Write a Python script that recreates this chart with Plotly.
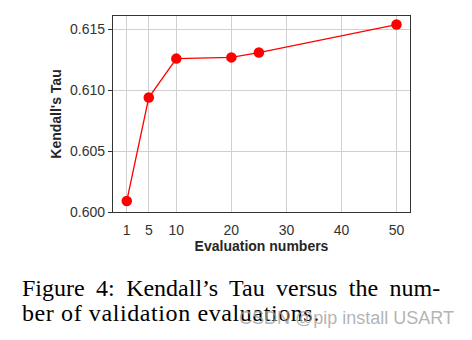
import plotly.graph_objects as go

# Kendall's Tau measured at each number of validation evaluations
eval_numbers = [1, 5, 10, 20, 25, 50]
kendall_tau = [0.6009, 0.6094, 0.6126, 0.6127, 0.6131, 0.6154]

x_ticks = [1, 5, 10, 20, 30, 40, 50]
y_ticks = [0.600, 0.605, 0.610, 0.615]
y_tick_labels = ["0.600", "0.605", "0.610", "0.615"]

x_title = "Evaluation numbers"
y_title = "Kendall's Tau"
caption_lines = ["Figure 4: Kendall’s Tau versus the num-", "ber of validation evaluations."]
watermark = "CSDN @pip install USART"

SANS = "Liberation Sans, Arial, sans-serif"
SERIF = "Liberation Serif, Times New Roman, serif"
W, H = 472, 340
L, R, T, B = 113, 62, 16, 128
plot_w = W - L - R
plot_h = H - T - B


def px_to_paper_x(px):
    return (px - L) / plot_w


def px_to_paper_y(py):
    return (H - B - py) / plot_h


fig = go.Figure()
fig.add_trace(go.Scatter(
    x=eval_numbers, y=kendall_tau, mode="lines+markers",
    line=dict(color="#ff0000", width=1.3),
    marker=dict(color="#ff0000", size=10.5),
    cliponaxis=False, showlegend=False,
))

axis_common = dict(
    showline=True, mirror=True, linecolor="#333333", linewidth=1.3,
    showgrid=True, gridcolor="#d0d0d0", gridwidth=1, zeroline=False,
    tickfont=dict(family=SANS, size=14, color="#333333"),
)

fig.update_xaxes(
    range=[-1.5, 52.45], tickmode="array", tickvals=x_ticks,
    ticks="", ticklabelstandoff=5,
    title=dict(text=f"<b>{x_title}</b>", standoff=1,
               font=dict(family=SANS, size=14, color="#262626")),
    **axis_common,
)
fig.update_yaxes(
    range=[0.600, 0.6161], tickmode="array", tickvals=y_ticks, ticktext=y_tick_labels,
    ticks="outside", ticklen=4, tickwidth=1.2, tickcolor="#333333",
    title=dict(text=f"<b>{y_title}</b>", standoff=5,
               font=dict(family=SANS, size=14, color="#262626")),
    **axis_common,
)

# caption below the chart
fig.add_annotation(
    text=f'<span style="word-spacing:5.4px">{caption_lines[0]}</span>',
    xref="paper", yref="paper", x=px_to_paper_x(20), y=px_to_paper_y(288),
    xanchor="left", yanchor="middle", showarrow=False,
    font=dict(family=SERIF, size=24, color="#000000"),
)
fig.add_annotation(
    text=f'<span style="letter-spacing:0.6px">{caption_lines[1]}</span>',
    xref="paper", yref="paper", x=px_to_paper_x(20), y=px_to_paper_y(313),
    xanchor="left", yanchor="middle", showarrow=False,
    font=dict(family=SERIF, size=24, color="#000000"),
)
# site watermark
fig.add_annotation(
    text=watermark,
    xref="paper", yref="paper", x=px_to_paper_x(456), y=px_to_paper_y(318),
    xanchor="right", yanchor="middle", showarrow=False,
    font=dict(family=SANS, size=18, color="rgba(160,160,160,0.8)"),
)

fig.update_layout(
    width=W, height=H, margin=dict(l=L, r=R, t=T, b=B),
    paper_bgcolor="white", plot_bgcolor="white",
)

fig.write_html("out.html")
